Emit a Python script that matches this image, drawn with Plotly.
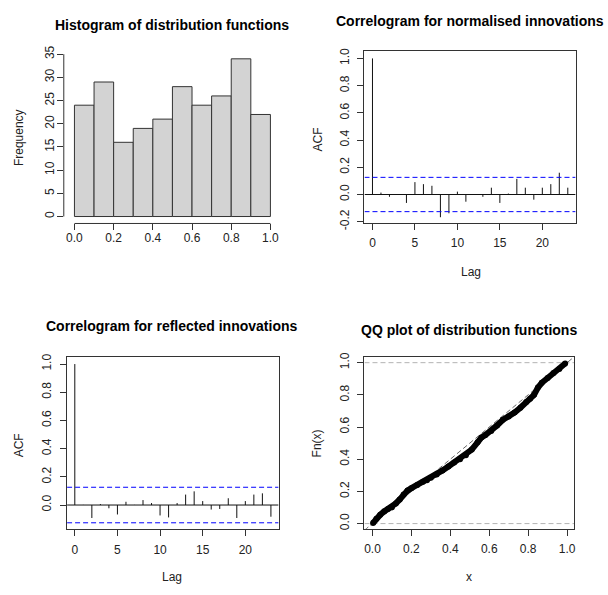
import plotly.graph_objects as go

W, H = 608, 595
FONT = "Arial, Liberation Sans, sans-serif"
TXT = "#222222"
LINE = "#333333"

# ---------------- data ----------------
hist_breaks = [0.0, 0.1, 0.2, 0.3, 0.4, 0.5, 0.6, 0.7, 0.8, 0.9, 1.0]
hist_counts = [24, 29, 16, 19, 21, 28, 24, 26, 34, 22]
hist_xticks = [0.0, 0.2, 0.4, 0.6, 0.8, 1.0]
hist_yticks = [0, 5, 10, 15, 20, 25, 30, 35]

lags = list(range(24))
acf_norm = [1.0, 0.014, -0.017, 0.003, -0.062, 0.091, 0.076, 0.064, -0.167, -0.138,
            0.021, -0.053, 0.002, -0.017, 0.050, -0.062, 0.007, 0.115, 0.050, -0.038,
            0.050, 0.076, 0.160, 0.050]
acf_refl = [1.0, 0.001, -0.092, 0.007, -0.023, -0.067, 0.023, 0.001, 0.035, 0.014,
            -0.074, -0.088, 0.014, 0.074, 0.097, 0.028, -0.032, -0.028, 0.048, -0.092,
            0.028, 0.074, 0.083, -0.083]
clim = 0.126
lag_ticks = [0, 5, 10, 15, 20]
acf_ticks_norm = [-0.2, 0.0, 0.2, 0.4, 0.6, 0.8, 1.0]
acf_ticks_refl = [0.0, 0.2, 0.4, 0.6, 0.8, 1.0]

qq_x = [0.003, 0.02, 0.04, 0.06, 0.08, 0.10, 0.12, 0.14, 0.16, 0.18, 0.20, 0.23, 0.26,
        0.28, 0.30, 0.33, 0.36, 0.39, 0.42, 0.45, 0.48, 0.51, 0.54, 0.56, 0.58, 0.61,
        0.64, 0.67, 0.70, 0.73, 0.76, 0.79, 0.81, 0.83, 0.85, 0.87, 0.90, 0.93, 0.96, 0.99]
qq_y = [0.004, 0.03, 0.055, 0.075, 0.09, 0.10, 0.125, 0.15, 0.18, 0.205, 0.22, 0.24, 0.26,
        0.27, 0.285, 0.305, 0.33, 0.355, 0.38, 0.40, 0.425, 0.46, 0.505, 0.535, 0.55, 0.575,
        0.61, 0.645, 0.665, 0.69, 0.72, 0.755, 0.775, 0.80, 0.845, 0.875, 0.905, 0.935, 0.96, 0.995]
qq_ticks = [0.0, 0.2, 0.4, 0.6, 0.8, 1.0]


def fx(px):
    return px / W


def fy(py):
    return 1 - py / H


def fmt1(v):
    return f"{v:.1f}"


# ---------------- panel geometry (pixels) ----------------
# (left, right, top, bottom)
P1 = (64.0, 282.0, 46.6, 221.7)      # histogram
P2 = (365.7, 577.5, 45.0, 221.0)     # acf normalised
P3 = (67.3, 279.5, 358.3, 535.0)     # acf reflected
P4 = (365.7, 576.0, 358.3, 534.3)    # qq

R1x = [-0.0544, 1.0544]
R1y = [-1.5, 35.36]
R2x = [-0.94, 23.92]
R2y = [-0.208, 1.055]
R3x = [-0.905, 23.9]
R3y = [-0.173, 1.051]
R4x = [-0.041, 1.036]
R4y = [-0.032, 1.036]

fig = go.Figure()

# histogram
mids = [(hist_breaks[i] + hist_breaks[i + 1]) / 2 for i in range(len(hist_counts))]
widths = [hist_breaks[i + 1] - hist_breaks[i] for i in range(len(hist_counts))]
fig.add_trace(go.Bar(x=mids, y=hist_counts, width=widths, xaxis="x", yaxis="y",
                     marker=dict(color="#D3D3D3", line=dict(color=LINE, width=1))))


def stems(lagv, vals):
    xs, ys = [], []
    for l, v in zip(lagv, vals):
        xs += [l, l, None]
        ys += [0, v, None]
    return xs, ys


for vals, xa, ya, rx in [(acf_norm, "x2", "y2", R2x), (acf_refl, "x3", "y3", R3x)]:
    sx, sy = stems(lags, vals)
    fig.add_trace(go.Scatter(x=sx, y=sy, mode="lines", xaxis=xa, yaxis=ya,
                             line=dict(color="#111111", width=1)))
    fig.add_trace(go.Scatter(x=rx, y=[0, 0], mode="lines", xaxis=xa, yaxis=ya,
                             line=dict(color="#111111", width=1)))
    for c in (clim, -clim):
        fig.add_trace(go.Scatter(x=rx, y=[c, c], mode="lines", xaxis=xa, yaxis=ya,
                                 line=dict(color="#0000ff", width=1, dash="5px,3px")))

# QQ
for hv in (0.0, 1.0):
    fig.add_trace(go.Scatter(x=R4x, y=[hv, hv], mode="lines", xaxis="x4", yaxis="y4",
                             line=dict(color="#b3b3b3", width=1, dash="5px,3px")))
fig.add_trace(go.Scatter(x=R4x, y=R4x, mode="lines", xaxis="x4", yaxis="y4",
                         line=dict(color="#666666", width=1, dash="5px,3px")))
fig.add_trace(go.Scatter(x=qq_x, y=qq_y, mode="lines+markers", xaxis="x4", yaxis="y4",
                         line=dict(color="black", width=6),
                         marker=dict(color="black", size=6)))

common = dict(showgrid=False, zeroline=False, ticks="outside", ticklen=6, tickwidth=1,
              tickcolor=LINE, tickfont=dict(family=FONT, size=12, color=TXT),
              fixedrange=True)
box = dict(showline=True, mirror=True, linecolor=LINE, linewidth=1)

layout = dict(
    width=W, height=H, margin=dict(l=0, r=0, t=0, b=0),
    paper_bgcolor="white", plot_bgcolor="white", showlegend=False,
    font=dict(family=FONT, color=TXT),
    xaxis=dict(domain=[fx(P1[0]), fx(P1[1])], range=R1x, anchor="y",
               tickvals=hist_xticks, ticktext=[fmt1(v) for v in hist_xticks],
               showline=False, ticklabelstandoff=-3, **common),
    yaxis=dict(domain=[fy(P1[3]), fy(P1[2])], range=R1y, anchor="x",
               tickvals=hist_yticks, ticktext=[str(v) for v in hist_yticks],
               tickangle=-90, showline=False, ticklabelstandoff=-2, **common),
    xaxis2=dict(domain=[fx(P2[0]), fx(P2[1])], range=R2x, anchor="y2",
                tickvals=lag_ticks, ticktext=[str(v) for v in lag_ticks],
                ticklabelstandoff=3, **box, **common),
    yaxis2=dict(domain=[fy(P2[3]), fy(P2[2])], range=R2y, anchor="x2",
                tickvals=acf_ticks_norm, ticktext=[fmt1(v) for v in acf_ticks_norm],
                tickangle=-90, ticklabelstandoff=4, **box, **common),
    xaxis3=dict(domain=[fx(P3[0]), fx(P3[1])], range=R3x, anchor="y3",
                tickvals=lag_ticks, ticktext=[str(v) for v in lag_ticks],
                ticklabelstandoff=3, **box, **common),
    yaxis3=dict(domain=[fy(P3[3]), fy(P3[2])], range=R3y, anchor="x3",
                tickvals=acf_ticks_refl, ticktext=[fmt1(v) for v in acf_ticks_refl],
                tickangle=-90, ticklabelstandoff=4, **box, **common),
    xaxis4=dict(domain=[fx(P4[0]), fx(P4[1])], range=R4x, anchor="y4",
                tickvals=qq_ticks, ticktext=[fmt1(v) for v in qq_ticks],
                ticklabelstandoff=3, **box, **common),
    yaxis4=dict(domain=[fy(P4[3]), fy(P4[2])], range=R4y, anchor="x4",
                tickvals=qq_ticks, ticktext=[fmt1(v) for v in qq_ticks],
                tickangle=-90, ticklabelstandoff=4, **box, **common),
)
fig.update_layout(**layout)

# histogram axis lines (R style, spanning first..last tick)
fig.add_shape(type="line", xref="x", yref="paper", x0=hist_xticks[0], x1=hist_xticks[-1],
              y0=fy(P1[3]), y1=fy(P1[3]), line=dict(color=LINE, width=1))
fig.add_shape(type="line", xref="paper", yref="y", x0=fx(P1[0]), x1=fx(P1[0]),
              y0=hist_yticks[0], y1=hist_yticks[-1], line=dict(color=LINE, width=1))

# titles
titles = [
    ("Histogram of distribution functions", 172.5, 18.7),
    ("Correlogram for normalised innovations", 471.5, 14.3),
    ("Correlogram for reflected innovations", 172.0, 326.7),
    ("QQ plot of distribution functions", 471.0, 330.8),
]
for t, cx, cy in titles:
    fig.add_annotation(text=f"<b>{t}</b>", x=fx(cx), y=fy(cy), xref="paper", yref="paper",
                       xanchor="center", yanchor="middle", showarrow=False,
                       font=dict(family=FONT, size=14, color="black"))

axis_titles = [
    ("Frequency", 19.0, 133.3, -90),
    ("ACF", 319.0, 135.7, -90),
    ("Lag", 472.3, 271.0, 0),
    ("ACF", 20.0, 449.0, -90),
    ("Lag", 172.7, 583.7, 0),
    ("Fn(x)", 319.0, 447.0, -90),
    ("x", 470.7, 583.5, 0),
]
for t, cx, cy, ang in axis_titles:
    fig.add_annotation(text=t, x=fx(cx), y=fy(cy), xref="paper", yref="paper",
                       xanchor="center", yanchor="middle", showarrow=False, textangle=ang,
                       font=dict(family=FONT, size=12, color=TXT))

fig.write_html("out.html")
